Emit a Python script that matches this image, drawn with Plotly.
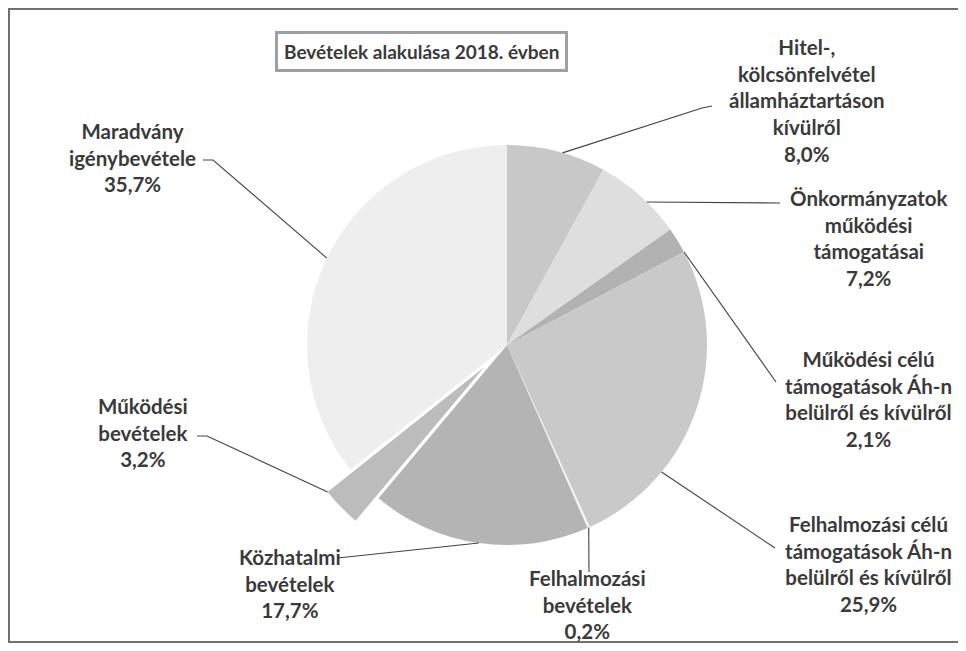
import math
import plotly.graph_objects as go

# ---- data ----
categories = [
    "Hitel-,<br>kölcsönfelvétel<br>államháztartáson<br>kívülről",
    "Önkormányzatok<br>működési<br>támogatásai",
    "Működési célú<br>támogatások Áh-n<br>belülről és kívülről",
    "Felhalmozási célú<br>támogatások Áh-n<br>belülről és kívülről",
    "Felhalmozási<br>bevételek",
    "Közhatalmi<br>bevételek",
    "Működési<br>bevételek",
    "Maradvány<br>igénybevétele",
]
values = [8.0, 7.2, 2.1, 25.9, 0.2, 17.7, 3.2, 35.7]
title_text = "Bevételek alakulása 2018. évben"

# ---- style / layout ----
OFF = 8                      # page body margin offset
W, H = 966 - 2 * OFF, 651 - 2 * OFF
colors = ["#c8c8c8", "#dedede", "#b2b2b2", "#c9c9c9", "#f2f2f2", "#b4b4b4", "#bcbcbc", "#eeeeee"]
pulls = [0, 0, 0, 0, 0, 0, 0.16, 0]
CX, CY, R = 507, 345, 200          # pie centre / radius in screen px
label_pos = [(807, 100), (868, 238), (868, 399), (868, 564),
             (587, 604), (290, 583), (143, 432), (132, 157)]
# label-side end of leader lines (px) and where on the slice (0..1) it meets
leader_from = [[(712, 106), (702, 108)], [(780, 203)], [(776, 382)], [(775, 548)],
               [(589, 572)], [(337, 558), (347, 557)], [(197, 436), (207, 436)],
               [(203, 160), (213, 160)]]
anchor_frac = [0.56, 0.6, 1.0, 0.72, 0.5, 0.5, 1.0, 0.5]
TXT = "#3a3a3a"
FONT = "Lato"
FS = 20.5

maxpull = max(pulls)
RD = R * (1 + maxpull)


def px(x):
    return (x - OFF) / W


def py(y):
    return 1 - (y - OFF) / H


fig = go.Figure(go.Pie(
    values=values,
    labels=[c.replace("<br>", " ") for c in categories],
    sort=False,
    direction="clockwise",
    rotation=0,
    pull=pulls,
    marker=dict(colors=colors, line=dict(width=0)),
    textinfo="none",
    hoverinfo="label+percent",
    showlegend=False,
    domain=dict(x=[px(CX - RD), px(CX + RD)], y=[py(CY + RD), py(CY - RD)]),
))

annotations = []
shapes = []
total = sum(values)
start = 0.0
for i, v in enumerate(values):
    span = v / total * 360
    ang = math.radians(start + anchor_frac[i] * span)
    mid = math.radians(start + span / 2)
    ox = pulls[i] * R * math.sin(mid)
    oy = -pulls[i] * R * math.cos(mid)
    ax = CX + ox + R * math.sin(ang)
    ay = CY + oy - R * math.cos(ang)
    start += span
    pct = f"{v:.1f}".replace(".", ",") + "%"
    lx, ly = label_pos[i]
    annotations.append(dict(
        x=px(lx), y=py(ly), xref="paper", yref="paper",
        text=categories[i] + "<br>" + pct, showarrow=False,
        font=dict(family=FONT, size=FS, color=TXT, weight="bold"),
        align="center", xanchor="center", yanchor="middle"))
    pts = leader_from[i] + [(ax, ay)]
    path = "M " + " L ".join(f"{px(x):.5f},{py(y):.5f}" for x, y in pts)
    shapes.append(dict(type="path", path=path, xref="paper", yref="paper",
                       line=dict(color="#444444", width=1.1)))

# title box
annotations.append(dict(
    x=px(421), y=py(51), xref="paper", yref="paper", text=title_text,
    showarrow=False, font=dict(family=FONT, size=19, color=TXT, weight="bold"),
    bordercolor="#a0a0a0", borderwidth=3, borderpad=6, bgcolor="white",
    xanchor="center", yanchor="middle"))

# outer frame
shapes.append(dict(type="rect", xref="paper", yref="paper",
                   x0=px(9), x1=px(990), y0=py(642), y1=py(9),
                   line=dict(color="#707070", width=2)))

fig.update_layout(
    width=W, height=H,
    margin=dict(l=0, r=0, t=0, b=0),
    paper_bgcolor="white", plot_bgcolor="white",
    annotations=annotations, shapes=shapes,
)
fig.write_html("out.html")
